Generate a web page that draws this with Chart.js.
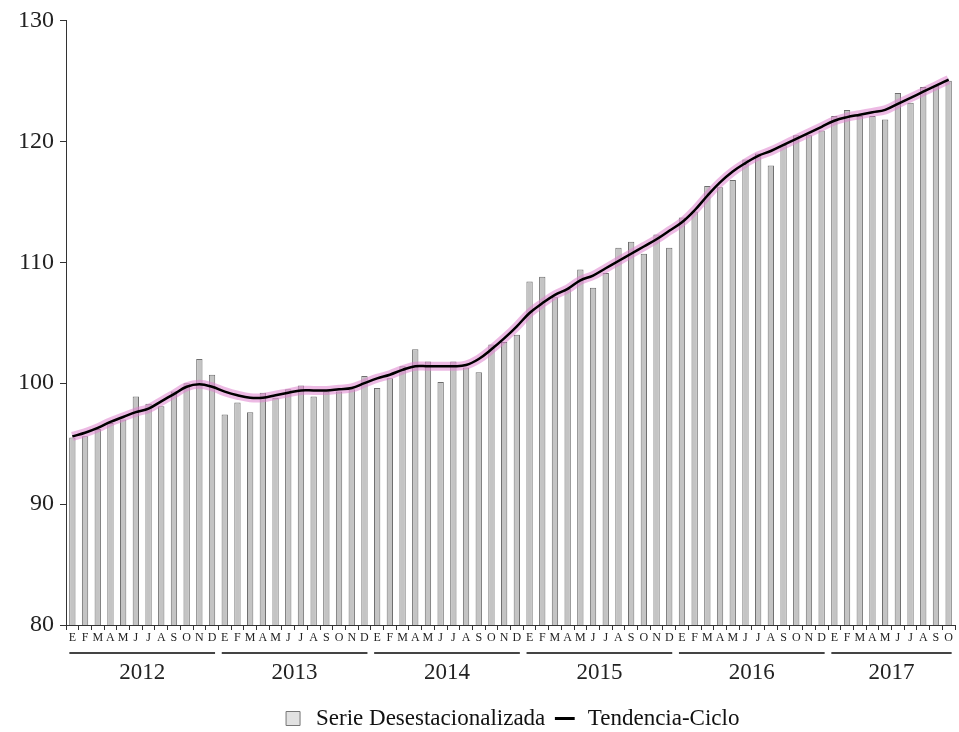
<!DOCTYPE html>
<html>
<head>
<meta charset="utf-8">
<script src="https://cdn.jsdelivr.net/npm/chart.js@4/dist/chart.umd.min.js"></script>
<style>
  html, body { margin: 0; padding: 0; background: #fff; }
  #contenedor { width: 959px; height: 732px; }
</style>
</head>
<body>
<div id="contenedor"><canvas id="Serie_Chart"></canvas></div>
<script>
// Meses (E..D) para 2012-2017 (hasta octubre 2017)
var letrasMes = ['E', 'F', 'M', 'A', 'M', 'J', 'J', 'A', 'S', 'O', 'N', 'D'];
var anios = ['2012', '2013', '2014', '2015', '2016', '2017'];
var mesesPorAnio = [12, 12, 12, 12, 12, 10];

// Serie desestacionalizada (barras)
var serieDesest = [
    95.5, 95.6, 96.2, 96.7, 97.0, 98.9, 98.3, 98.1, 99.3, 100.0, 102.0, 100.7,
    97.4, 98.4, 97.6, 99.2, 98.8, 99.5, 99.8, 98.9, 99.3, 99.3, 99.5, 100.6,
    99.6, 100.4, 101.4, 102.8, 101.8, 100.1, 101.8, 101.3, 100.9, 103.2, 103.4, 104.0,
    108.4, 108.8, 107.1, 107.8, 109.4, 107.9, 109.1, 111.2, 111.7, 110.7, 112.3, 111.2,
    113.7, 114.2, 116.3, 116.2, 116.8, 118.5, 119.0, 118.0, 119.7, 120.5, 120.5, 120.9,
    122.1, 122.6, 122.1, 122.1, 121.8, 124.0, 123.2, 124.5, 124.6, 125.0
];

// Tendencia-Ciclo (linea)
var tendenciaCiclo = [
    95.6, 95.9, 96.3, 96.8, 97.2, 97.6, 97.9, 98.5, 99.1, 99.7, 99.9, 99.7,
    99.3, 99.0, 98.8, 98.8, 99.0, 99.2, 99.4, 99.4, 99.4, 99.5, 99.6, 100.0,
    100.4, 100.7, 101.1, 101.4, 101.4, 101.4, 101.4, 101.5, 102.0, 102.8, 103.7, 104.7,
    105.8, 106.6, 107.3, 107.8, 108.5, 108.9, 109.5, 110.1, 110.7, 111.3, 111.9, 112.6,
    113.3, 114.3, 115.5, 116.6, 117.5, 118.2, 118.8, 119.2, 119.7, 120.2, 120.7, 121.2,
    121.7, 122.0, 122.2, 122.4, 122.6, 123.1, 123.6, 124.1, 124.6, 125.1
];

var etiquetas = [];
mesesPorAnio.forEach(function (n) {
    for (var i = 0; i < n; i++) etiquetas.push(letrasMes[i]);
});

var fuente = '"Liberation Serif", "DejaVu Serif", serif';

// Años debajo de las letras de los meses, con su raya
var pluginAnios = {
    id: 'anios',
    afterDraw: function (chart) {
        var ctx = chart.ctx;
        var x = chart.scales.x;
        var abajo = chart.chartArea.bottom;
        var inicio = 0;
        ctx.save();
        anios.forEach(function (anio, k) {
            var fin = inicio + mesesPorAnio[k] - 1;
            var x1 = x.getPixelForValue(inicio) - 3;
            var x2 = x.getPixelForValue(fin) + 3;
            ctx.strokeStyle = '#444';
            ctx.lineWidth = 2;
            ctx.beginPath();
            ctx.moveTo(x1, abajo + 28);
            ctx.lineTo(x2, abajo + 28);
            ctx.stroke();
            ctx.fillStyle = '#222';
            ctx.font = '23px ' + fuente;
            ctx.textAlign = 'center';
            ctx.textBaseline = 'middle';
            ctx.fillText(anio, (x1 + x2) / 2, abajo + 48);
            inicio = fin + 1;
        });
        ctx.restore();
    }
};

var ctx = document.getElementById('Serie_Chart').getContext('2d');
var serieChart = new Chart(ctx, {
    type: 'bar',
    data: {
        labels: etiquetas,
        datasets: [
            {
                type: 'line', label: 'Tendencia-Ciclo', data: tendenciaCiclo,
                borderColor: '#000', borderWidth: 2.5, pointRadius: 0,
                tension: 0.4, order: 0
            },
            {
                type: 'line', label: 'brillo', data: tendenciaCiclo,
                borderColor: 'rgba(222,130,205,0.55)', borderWidth: 9, pointRadius: 0,
                tension: 0.4, order: 1
            },
            {
                label: 'Serie Desestacionalizada', data: serieDesest,
                backgroundColor: '#c4c4c4', borderColor: '#6e6e6e', borderWidth: 1,
                barPercentage: 0.5, categoryPercentage: 1, order: 2
            }
        ]
    },
    options: {
        maintainAspectRatio: false,
        animation: false,
        layout: { padding: { top: 17, right: 4, left: 0, bottom: -8 } },
        plugins: {
            tooltip: { enabled: false },
            legend: {
                position: 'bottom',
                fullSize: false,
                reverse: true,
                labels: {
                    usePointStyle: true,
                    font: { family: fuente, size: 23 },
                    color: '#111',
                    padding: 8,
                    boxHeight: 14,
                    filter: function (item) { return item.text !== 'brillo'; },
                    generateLabels: function (chart) {
                        var items = Chart.defaults.plugins.legend.labels.generateLabels(chart);
                        items.forEach(function (it) {
                            if (it.text === 'Tendencia-Ciclo') {
                                it.pointStyle = 'line';
                                it.lineWidth = 3;
                                it.strokeStyle = '#000';
                            } else {
                                it.pointStyle = 'rect';
                                it.fillStyle = '#e2e2e2';
                                it.strokeStyle = '#777';
                                it.lineWidth = 1;
                            }
                        });
                        return items;
                    }
                }
            }
        },
        scales: {
            x: {
                offset: true,
                grid: { display: true, drawOnChartArea: false, drawTicks: true, tickLength: 5, color: '#333', offset: true },
                border: { display: true, color: '#333', width: 1 },
                ticks: {
                    autoSkip: false, maxRotation: 0, minRotation: 0,
                    font: { family: fuente, size: 12 }, color: '#222', padding: 1
                },
                afterFit: function (scale) { scale.height = 74; }
            },
            y: {
                min: 80, max: 130,
                ticks: { stepSize: 10, font: { family: fuente, size: 24 }, color: '#222', padding: 6 },
                grid: { display: true, drawOnChartArea: false, drawTicks: true, tickLength: 6, color: '#333' },
                border: { display: true, color: '#333', width: 1 },
                afterFit: function (scale) { scale.width = 66; }
            }
        }
    },
    plugins: [pluginAnios]
});
</script>
</body>
</html>
